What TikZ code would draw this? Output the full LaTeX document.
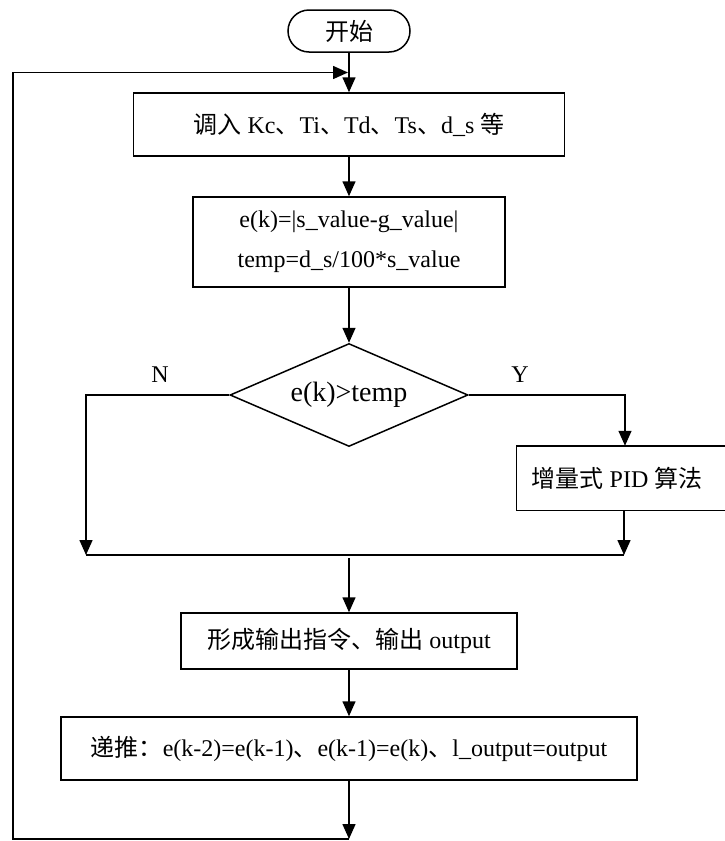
\documentclass[tikz,border=0pt]{standalone}
\usepackage{fontspec}
\setmainfont{Liberation Serif}
\newfontfamily\cjk{Noto Sans CJK SC}
\usetikzlibrary{
    arrows.meta,
    calc,
    shapes.geometric,
    positioning
}
\tikzset{
  box/.style={
    draw,
    rectangle,
    inner sep=0pt,
    font=\fontsize{24}{40}\selectfont
  },
  terminal/.style={
    box,
    rounded corners=21pt,
    minimum width=122pt,
    minimum height=42pt
  },
  decision/.style={
    draw,
    diamond,
    aspect=2.31,
    inner sep=0pt,
    minimum width=238pt,
    minimum height=103pt,
    font=\fontsize{28}{34}\selectfont
  },
  tag/.style={
    font=\fontsize{24}{28}\selectfont
  }
}

\begin{document}
\begin{tikzpicture}[x=1pt,y=-1pt,line width=1.5pt,>={Triangle[length=15pt,width=13pt]}]
    \useasboundingbox (0,0) rectangle (724,841);

    % 开始
    \node[terminal] (start) at (349,31) {{\cjk 开始}};

    % 参数
    \node[box,minimum width=431pt,minimum height=63pt] (load) at (349,124.5)
        {{\cjk 调入} Kc{\cjk 、}Ti{\cjk 、}Td{\cjk 、}Ts{\cjk 、}d\_s {\cjk 等}};
    \node[box,minimum width=312pt,minimum height=90pt,align=center] (calc) at (349,242)
        {e(k)=|s\_value-g\_value|\\temp=d\_s/100*s\_value};

    % 判断
    \node[decision] (judge) at (349,395) {e(k)>temp};
    \node[tag] (no) at (160,375) {N};
    \node[tag] (yes) at (520,375) {Y};

    % PID
    \node[box,draw=none,minimum width=200pt,minimum height=63pt] (pid) at (617,478)
        {{\cjk 增量式} PID {\cjk 算法}};
    \draw (pid.south west) rectangle ($(pid.north east)+(16,0)$);

    % 输出
    \node[box,minimum width=336pt,minimum height=56pt] (output) at (349,641)
        {{\cjk 形成输出指令、输出} output};
    \node[box,minimum width=576pt,minimum height=63pt] (shift) at (349,748.5)
        {{\cjk 递推：}e(k-2)=e(k-1){\cjk 、}e(k-1)=e(k){\cjk 、}l\_output=output};

    % 连线
    \coordinate (entry) at (348,72.5);
    \coordinate (top) at (13,72.5);
    \coordinate (yturn) at (625,395);
    \coordinate (mergeL) at (86,555);
    \coordinate (mergeR) at (624,555);
    \coordinate (mergeC) at (349,558);
    \coordinate (back) at (349,839);
    \coordinate (backL) at (13,839);

    \draw[->] (start) -- (load);
    \draw[->] (load) -- (calc);
    \draw[->] (calc) -- (judge);
    \draw[->] (judge.west) -| (mergeL);
    \draw[->] (judge.east) -- (yturn) -- (yturn |- pid.north);
    \draw[->] (pid.south -| mergeR) -- (mergeR);
    \draw (mergeL) -- (mergeR);
    \draw[->] (mergeC) -- (output);
    \draw[->] (output) -- (shift);
    \draw[->] (shift) -- (back);

    % 循环
    \draw[->] (back) -- (backL) -- (top) -- (entry);
\end{tikzpicture}
\end{document}
